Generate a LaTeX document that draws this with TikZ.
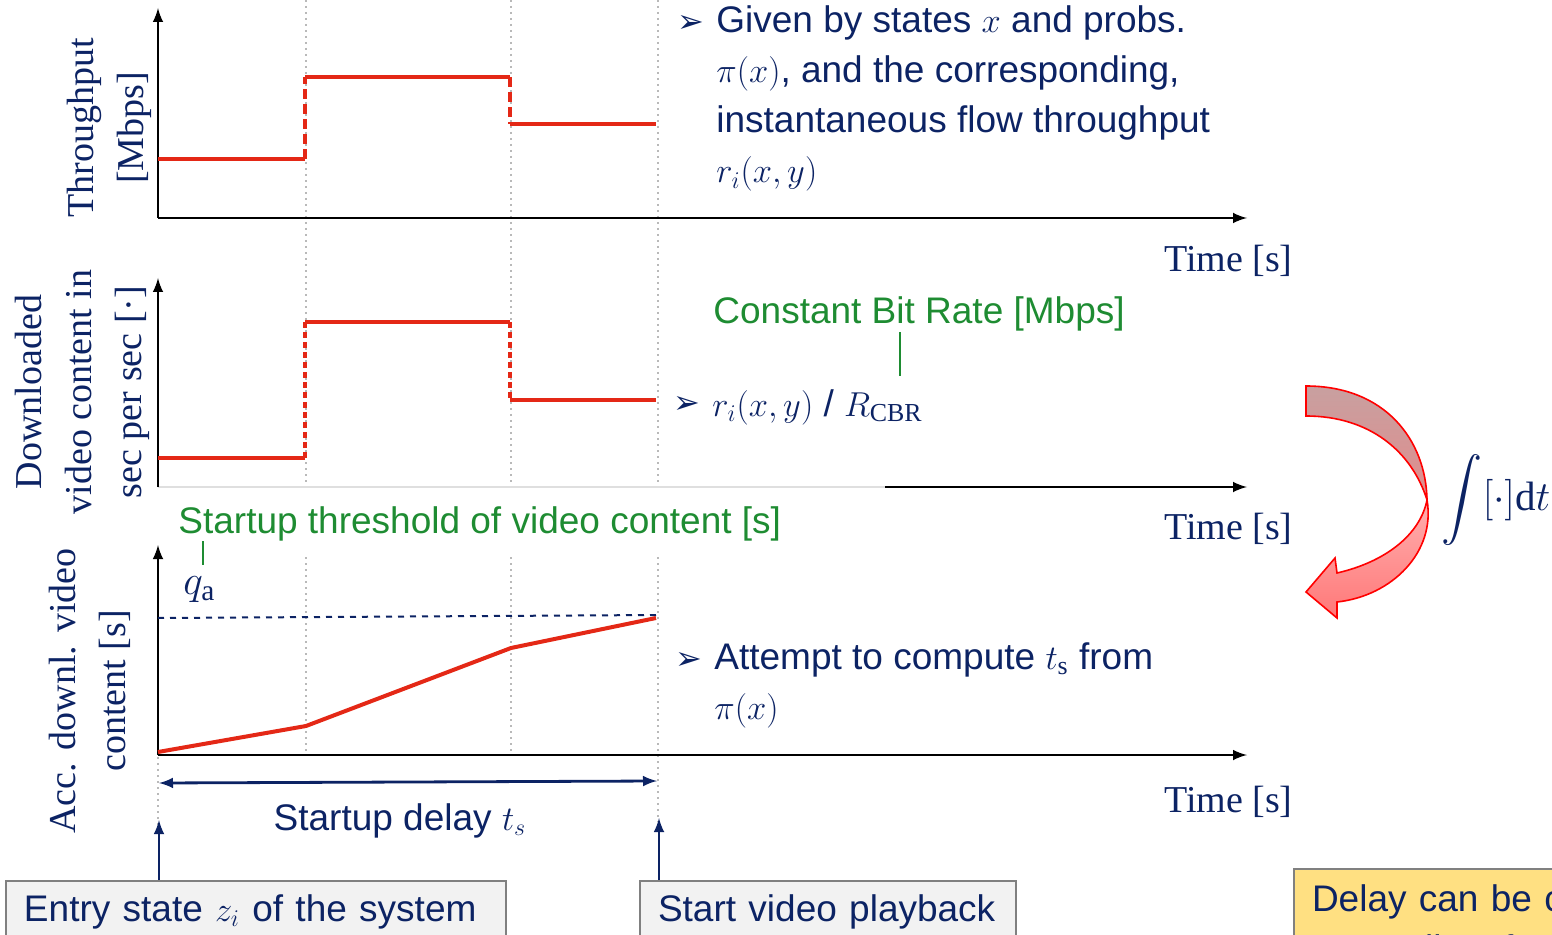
\documentclass[tikz,border=0pt]{standalone}
\usepackage{amsmath,amssymb}
\usepackage{fontspec}
\setmainfont{Liberation Serif}
\setsansfont{Liberation Sans}
\newfontfamily\bulletfont{DejaVu Sans}
\definecolor{navy}{RGB}{12,35,100}
\definecolor{curvered}{RGB}{228,40,22}
\definecolor{labelgreen}{RGB}{30,140,50}
\definecolor{boxgray}{RGB}{242,242,242}
\definecolor{noteyellow}{RGB}{255,224,130}

\begin{document}
\begin{tikzpicture}[x=0.5pt,y=-0.5pt,
   axis/.style={line width=1.4pt,-latex},
   guide/.style={gray!55,dotted,line width=1pt},
   curve/.style={curvered,line width=2pt},
   jump/.style={curvered,line width=2pt,dash pattern=on 5pt off 2.5pt},
   serifl/.style={text=navy,inner sep=0pt,font=\fontsize{19}{25}\selectfont},
   sansl/.style={text=navy,inner sep=0pt,align=left,font=\sffamily\fontsize{18.5}{25}\selectfont},
   greenl/.style={text=labelgreen,inner sep=0pt,font=\sffamily\fontsize{18.5}{25}\selectfont},
   tick/.style={labelgreen,line width=1pt},
   bullet/.style={text=navy,inner sep=0pt,font=\bulletfont\fontsize{16}{16}\selectfont},
   infobox/.style={draw=gray,line width=1pt,fill=boxgray,text=navy,anchor=north west,
      inner xsep=9pt,inner ysep=7pt,text height=13pt,text depth=30pt,align=left,
      font=\sffamily\fontsize{18.5}{25}\selectfont},
   uparrow/.style={navy,line width=1.4pt,-latex}]
\useasboundingbox (0,0) rectangle (1552,935);
\clip (0,0) rectangle (1552,935);

% dotted guides
\draw [guide] (306,0)--(306,487);
\draw [guide] (511,0)--(511,487);
\draw [guide] (658,0)--(658,487);
\draw [guide] (306,557)--(306,755);
\draw [guide] (511,557)--(511,755);
\draw [guide] (658,557)--(658,822);
\draw [guide] (158,757)--(158,826);

% throughput
\draw [axis] (158,218)--(1247,218);
\draw [axis] (158,218)--(158,8);
\draw [curve] (158,159)--(305,159);
\draw [jump] (305,159)--(305,77);
\draw [curve] (305,77)--(510,77);
\draw [jump] (510,77)--(510,124);
\draw [curve] (510,124)--(656,124);

% downloaded content per sec
\draw [gray!25,line width=0.8pt] (158,487)--(885,487);
\draw [axis] (885,487)--(1247,487);
\draw [axis] (158,487)--(158,278);
\draw [curve] (158,458)--(305,458);
\draw [jump,densely dashed] (305,458)--(305,322);
\draw [curve] (305,322)--(510,322);
\draw [jump,densely dashed] (510,322)--(510,400);
\draw [curve] (510,400)--(656,400);

% accumulated content
\draw [axis] (158,755)--(1247,755);
\draw [axis] (158,755)--(158,545);
\draw [navy,dashed,line width=1pt] (158,618)--(658,615);
\draw [curve] (158,752)--(306,726)--(511,648)--(656,618);

% axis labels
\node [serifl,rotate=90,align=center] (thrlab) at (109,128) {Throughput\\{}[Mbps]};
\node [serifl,rotate=90,align=center] (dllab) at (82,392) {Downloaded\\video content in\\sec per sec [·]};
\node [serifl,rotate=90,align=center] (acclab) at (90,691) {Acc. downl. video\\content [s]};
\node [serifl,anchor=base east] (time1) at (1293,272) {Time [s]};
\node [serifl,anchor=base east] (time2) at (1293,539) {Time [s]};
\node [serifl,anchor=base east] (time3) at (1293,812) {Time [s]};

% bullets
\node [bullet] (b1) at (691,24) {➢};
\node [sansl,anchor=base west] (given) at (716,183) {Given by states $x$ and probs.\\$\pi(x)$, and the corresponding,\\instantaneous flow throughput\\$r_i(x,y)$};
\node [greenl,anchor=base west] (cbr) at (713,324) {Constant Bit Rate [Mbps]};
\node [bullet] (b2) at (687,405) {➢};
\node [sansl,anchor=base west] (ratio) at (712,416) {$r_i(x,y)$ / $R_{\mathrm{CBR}}$};
\coordinate (rate) at (900,376);
\draw [tick] (cbr.south -| rate)--(rate);

\node [greenl,anchor=base west] (thr) at (178,533) {Startup threshold of video content [s]};
\node [sansl,anchor=base west,font=\fontsize{21}{25}\selectfont] (qa) at (183,594) {$q_{\mathrm{a}}$};
\coordinate (qtick) at (203,565);
\draw [tick] (thr.south -| qtick)--(qtick);

\node [bullet] (b3) at (689,661) {➢};
\node [sansl,anchor=base west] (attempt) at (714,719) {Attempt to compute $t_{\mathrm{s}}$ from\\$\pi(x)$};

% startup delay
\coordinate (d0) at (159,783);
\coordinate (d1) at (657,781);
\draw [navy,line width=1.4pt,latex-latex] (d0)--(d1);
\node [sansl,anchor=base] (delay) at (400,830) {Startup delay $t_s$};

% boxes
\node [infobox,text width=232pt] (entry) at (5,880) {\mbox{Entry state $z_i$ of the system}};
\node [infobox,text width=170pt] (play) at (639,880) {\mbox{Start video playback}};
\node [infobox,fill=noteyellow,text width=200pt,inner ysep=8pt] (note) at (1293,868) {Delay can be c\\to Quality of E};
\coordinate (e0) at (159,820);
\coordinate (e1) at (659,818);
\draw [uparrow] (entry.north -| e0)--(e0);
\draw [uparrow] (play.north -| e1)--(e1);

% integration arrow
\shade [top color={rgb,255:red,200;green,160;blue,160},bottom color={rgb,255:red,225;green,140;blue,140},draw=red,line width=0.8pt]
  (1306,386) .. controls (1385,386) and (1426,440) .. (1427,500)
  .. controls (1412,452) and (1370,416) .. (1306,416) -- cycle;
\shade [top color={rgb,255:red,255;green,175;blue,175},bottom color={rgb,255:red,255;green,120;blue,120},draw=red,line width=0.8pt]
  (1427,500) .. controls (1436,552) and (1392,596) .. (1337,602)
  -- (1337,618) -- (1306,592) -- (1335,558) -- (1337,573)
  .. controls (1385,562) and (1420,535) .. (1427,500) -- cycle;
\node [serifl,font=\fontsize{20.5}{25}\selectfont] (integ) at (1496,500) {$\displaystyle\int[\cdot]\mathrm{d}t$};

\end{tikzpicture}
\end{document}
